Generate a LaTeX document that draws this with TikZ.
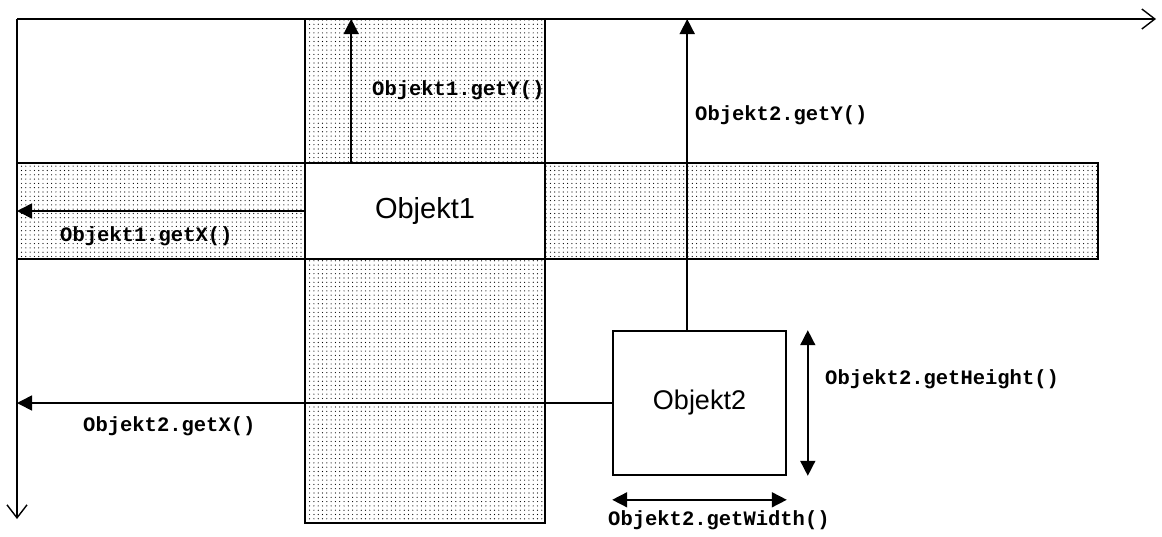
\documentclass[tikz,border=0pt]{standalone}
\usepackage{fontspec}
\setmainfont{Liberation Sans}
\newfontfamily\codefont{Liberation Mono}
\usetikzlibrary{arrows.meta,patterns.meta}
\tikzset{
  frame/.style={draw=black, line width=1.6pt},
  band/.style={frame, rectangle, inner sep=0pt,
    pattern={Dots[distance=4.3pt,radius=0.6pt]}, pattern color=black},
  objbox/.style={frame, rectangle, fill=white, inner sep=0pt},
  axis/.style={line width=1.6pt, -{Straight Barb[length=13pt,width=20pt,line width=1.4pt]}},
  measure/.style={line width=1.6pt, -{Triangle[length=15pt,width=15pt]}},
  twoway/.style={line width=1.6pt, {Triangle[length=15pt,width=15pt]}-{Triangle[length=15pt,width=15pt]}},
  code/.style={anchor=west, inner sep=0pt, font=\codefont\bfseries\fontsize{20.5}{24}\selectfont}
}
\begin{document}
\begin{tikzpicture}[x=1pt,y=-1pt]
  \useasboundingbox (0,0) rectangle (1162,536);

  % hatched bands through Objekt1
  \node[band, minimum width=1081pt, minimum height=96pt] (hband) at (557.5,211) {};
  \node[band, minimum width=240pt, minimum height=504pt] (vband) at (425,271) {};

  % objects
  \node[objbox, minimum width=240pt, minimum height=96pt,
        font=\fontsize{29}{32}\selectfont] (obj1) at (425,211) {Objekt1};
  \node[objbox, minimum width=173pt, minimum height=144pt,
        font=\fontsize{27}{30}\selectfont] (obj2) at (699.5,403) {Objekt2};

  % coordinate axes
  \coordinate (origin) at (17,19);
  \coordinate (xend) at (1156,19);
  \coordinate (yend) at (17,519);
  \draw[axis] (origin) -- (xend);
  \draw[axis] (origin) -- (yend);

  % position measures
  \draw[measure] ([xshift=47pt]obj1.north west) -- ([xshift=47pt]obj1.north west |- origin);
  \draw[measure] (obj1.west) -- (origin |- obj1.west);
  \draw[measure] ([xshift=75pt]obj2.north west) -- ([xshift=75pt]obj2.north west |- origin);
  \draw[measure] (obj2.west) -- (origin |- obj2.west);

  % size measures
  \draw[twoway] ([xshift=21pt]obj2.north east) -- ([xshift=21pt]obj2.south east);
  \draw[twoway] ([yshift=-24pt]obj2.south west) -- ([yshift=-24pt]obj2.south east);

  % labels
  \node[code] (l1y) at (372,90) {Objekt1.getY()};
  \node[code] (l2y) at (695,115) {Objekt2.getY()};
  \node[code] (l1x) at (60,236) {Objekt1.getX()};
  \node[code] (l2x) at (83,426) {Objekt2.getX()};
  \node[code] (l2h) at (825,379) {Objekt2.getHeight()};
  \node[code] (l2w) at (608,520) {Objekt2.getWidth()};
\end{tikzpicture}
\end{document}
